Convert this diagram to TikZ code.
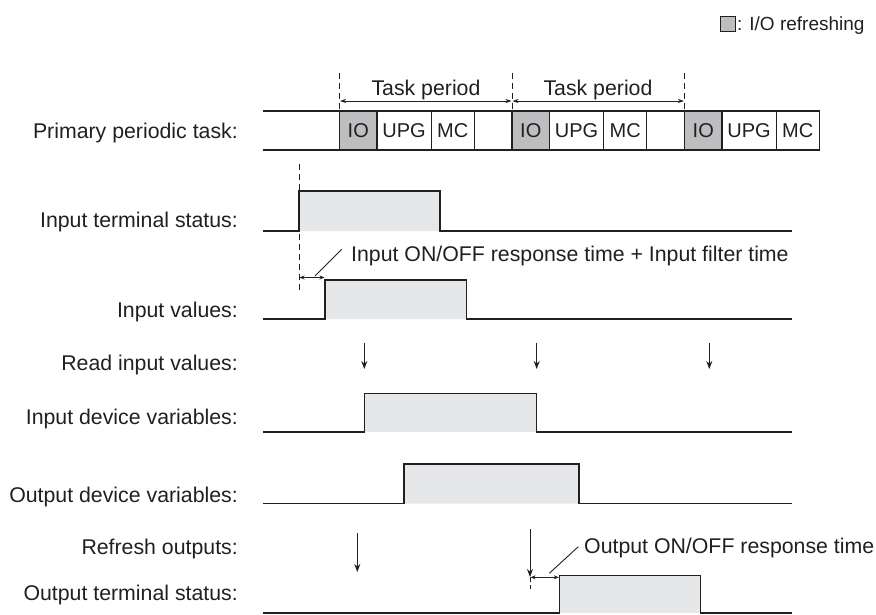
\documentclass[tikz,border=0pt]{standalone}
\usepackage{fontspec}
\setmainfont{Liberation Sans}
\usetikzlibrary{arrows.meta}
\definecolor{ink}{HTML}{231F20}
\definecolor{iogray}{HTML}{BCBEC0}
\definecolor{pulsegray}{HTML}{E6E7E8}
\begin{document}
\begin{tikzpicture}[x=1pt,y=-1pt,
  font=\fontsize{21.3}{25}\selectfont,
  lbl/.style={anchor=east, inner sep=0pt, text height=15pt, text depth=0pt, text=ink},
  txt/.style={inner sep=0pt, text height=15pt, text depth=0pt, text=ink},
  seg/.style={draw=ink, line width=1.1pt, minimum height=39pt, inner sep=0pt, outer sep=0pt,
              anchor=west, text height=14pt, text depth=0pt, text=ink, font=\fontsize{20}{24}\selectfont},
  wave/.style={draw=ink, line width=1.4pt, fill=pulsegray},
  rowline/.style={draw=ink, line width=1.1pt},
  dsh/.style={draw=ink, line width=1pt, dash pattern=on 6pt off 4pt},
  readarr/.style={draw=ink, line width=1pt, -{Stealth[length=8pt,width=6pt]}},
  period/.style={draw=ink, line width=0.9pt, {Stealth[length=6pt,width=4pt]}-{Stealth[length=6pt,width=4pt]}},
  resp/.style={draw=ink, line width=0.9pt, {Stealth[length=5pt,width=4pt]}-{Stealth[length=5pt,width=4pt]}},
  leader/.style={draw=ink, line width=0.9pt}
]
\useasboundingbox (0,0) rectangle (876,614);

% legend
\node[draw=ink, fill=iogray, minimum size=15pt, inner sep=0pt, line width=0.8pt] (legbox) at (728,24) {};
\node[txt, anchor=west, font=\fontsize{19}{23}\selectfont, text height=13.5pt] (legtxt) at ([xshift=1pt]legbox.east) {: I/O refreshing};

% labels
\node[lbl] (lprim) at (238,130.5) {Primary periodic task:};
\node[lbl] (lits) at (238,220) {Input terminal status:};
\node[lbl] (liv) at (238,310) {Input values:};
\node[lbl] (lriv) at (238,363) {Read input values:};
\node[lbl] (lidv) at (238,417) {Input device variables:};
\node[lbl] (lodv) at (238,495) {Output device variables:};
\node[lbl] (lro) at (238,547) {Refresh outputs:};
\node[lbl] (lots) at (238,593) {Output terminal status:};

% task row
\coordinate (rowL1) at (263,111);
\coordinate (rowL2) at (263,150);
\foreach \k/\x in {1/339.5, 2/512, 3/684.5}{
  \node[seg, fill=iogray, minimum width=37.5pt] (io\k) at (\x,130.5) {IO};
  \node[seg, minimum width=54.2pt] (upg\k) at (io\k.east) {UPG};
  \node[seg, minimum width=43pt] (mc\k) at (upg\k.east) {MC};
}
\node[seg, minimum width=37.8pt] (gap1) at (mc1.east) {};
\node[seg, minimum width=37.8pt] (gap2) at (mc2.east) {};
\draw[rowline] (rowL1) -- (io1.north west);
\draw[rowline] (rowL2) -- (io1.south west);

% task period markers
\foreach \k in {1,2,3}{
  \coordinate (dt\k) at ([yshift=38pt]io\k.north west);
  \draw[dsh] (dt\k) -- (io\k.north west);
  \coordinate (pa\k) at ([yshift=10pt]io\k.north west);
}
\draw[period] ([xshift=0.5pt]pa1) -- ([xshift=-0.5pt]pa2);
\draw[period] ([xshift=0.5pt]pa2) -- ([xshift=-0.5pt]pa3);
\node[txt] (tp1) at (426,88) {Task period};
\node[txt] (tp2) at (598,88) {Task period};

% input terminal status
\draw[wave] (263,231) -- (299,231) -- (299,191) -- (440,191) -- (440,231) -- (792,231);
\coordinate (dA) at (299,164);
\coordinate (dB) at (299,293);
\draw[dsh] (dA) -- (dB);

% input values
\draw[wave] (263,319) -- (325,319) -- (325,280) -- (466.7,280) -- (466.7,319) -- (792,319);
\coordinate (rA) at (299.5,277.5);
\coordinate (rB) at (324.5,277.5);
\draw[resp] (rA) -- (rB);
\coordinate (lA) at (315,276);
\coordinate (lB) at (341.7,249.3);
\draw[leader] (lA) -- (lB);
\node[txt, anchor=west] (intime) at (351,254) {Input ON/OFF response time + Input filter time};

% read input values
\foreach \k/\x in {1/364.3, 2/536.7, 3/709.3}{
  \coordinate (ra\k) at (\x,343);
  \coordinate (rb\k) at (\x,369);
  \draw[readarr] (ra\k) -- (rb\k);
}

% input device variables
\draw[wave] (263,432) -- (364.3,432) -- (364.3,393.5) -- (536.7,393.5) -- (536.7,432) -- (792,432);

% output device variables
\draw[wave] (263,503.5) -- (404,503.5) -- (404,464) -- (579,464) -- (579,503.5) -- (792,503.5);

% refresh outputs
\coordinate (oa1) at (357.3,533);
\coordinate (ob1) at (357.3,572);
\draw[readarr] (oa1) -- (ob1);
\coordinate (oa2) at (530,529);
\coordinate (ob2) at (530,577);
\draw[readarr] (oa2) -- (ob2);
\coordinate (od) at (530,589);
\draw[dsh, dash pattern=on 5pt off 3pt] (ob2) -- (od);

% output terminal status
\draw[wave] (263,613) -- (559.3,613) -- (559.3,575.3) -- (700.7,575.3) -- (700.7,613) -- (792,613);
\coordinate (sA) at (530.5,577.3);
\coordinate (sB) at (558.8,577.3);
\draw[resp] (sA) -- (sB);
\coordinate (mA) at (549.3,573.3);
\coordinate (mB) at (578.3,546.7);
\draw[leader] (mA) -- (mB);
\node[txt, anchor=west] (outtime) at (584,546) {Output ON/OFF response time};
\end{tikzpicture}
\end{document}
